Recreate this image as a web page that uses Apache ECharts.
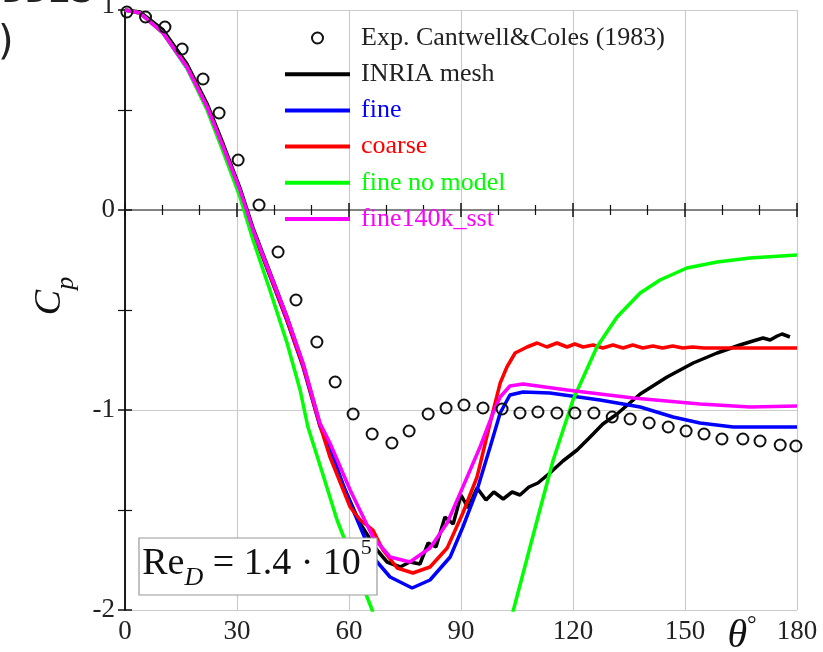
<!DOCTYPE html>
<html>
<head>
<meta charset="utf-8">
<script src="https://cdn.jsdelivr.net/npm/echarts@6/dist/echarts.min.js"></script>
<style>
html, body { margin: 0; padding: 0; background: #fff; }
#cp-chart { width: 823px; height: 652px; }
</style>
</head>
<body>
<div id="cp-chart"></div>
<script>
// 压力系数 Cp 分布  θ in degrees
var expTheta = [0.5, 5.5, 10.7, 15.3, 20.9, 25.2, 30.3, 35.9, 41.0, 45.8, 51.4, 56.3, 61.1, 66.2, 71.5, 76.1, 81.2, 86.0, 90.8, 95.9, 101.0, 105.8, 110.6, 115.7, 120.5, 125.6, 130.5, 135.3, 140.4, 145.5, 150.3, 155.1, 159.9, 165.5, 170.1, 175.5, 179.7];
var expCp    = [0.99, 0.965, 0.915, 0.805, 0.655, 0.485, 0.25, 0.025, -0.21, -0.45, -0.66, -0.86, -1.02, -1.12, -1.165, -1.105, -1.02, -0.99, -0.975, -0.99, -0.995, -1.015, -1.01, -1.015, -1.015, -1.015, -1.035, -1.045, -1.065, -1.085, -1.105, -1.12, -1.145, -1.145, -1.155, -1.175, -1.18];

var inriaTheta = [0, 4.0, 10.2, 16.6, 22.0, 26.3, 30.8, 34.3, 38.8, 43.4, 47.7, 52.2, 54.9, 58.5, 62.9, 67.5, 70.2, 73.7, 76.3, 79.0, 81.2, 83.3, 85.7, 87.9, 90.0, 91.9, 94.3, 96.7, 98.8, 101.3, 103.7, 105.8, 108.2, 110.6, 113.8, 117.3, 121.1, 124.6, 128.0, 131.8, 138.0, 145.2, 152.2, 158.6, 164.7, 168.2, 170.9, 172.8, 174.7, 176.0, 178.1];
var inriaCp    = [1.0, 0.99, 0.90, 0.73, 0.53, 0.33, 0.11, -0.09, -0.31, -0.535, -0.77, -1.07, -1.19, -1.38, -1.565, -1.70, -1.76, -1.785, -1.76, -1.77, -1.665, -1.685, -1.535, -1.57, -1.425, -1.49, -1.39, -1.45, -1.41, -1.445, -1.41, -1.425, -1.385, -1.365, -1.315, -1.255, -1.20, -1.135, -1.07, -1.02, -0.92, -0.835, -0.765, -0.715, -0.675, -0.655, -0.64, -0.65, -0.63, -0.62, -0.635];

var fineTheta = [0, 4.0, 10.2, 16.6, 22.0, 26.3, 30.8, 34.3, 38.8, 43.4, 47.7, 52.2, 54.9, 60.3, 66.4, 71.0, 76.9, 81.7, 87.1, 90.5, 94.3, 97.8, 100.5, 103.1, 106.6, 113.8, 127.2, 138.0, 146.8, 154.0, 162.9, 172.0, 180];
var fineCp    = [1.0, 0.985, 0.885, 0.71, 0.51, 0.31, 0.09, -0.11, -0.33, -0.555, -0.785, -1.08, -1.20, -1.465, -1.735, -1.835, -1.89, -1.85, -1.735, -1.585, -1.40, -1.185, -1.015, -0.925, -0.91, -0.915, -0.95, -0.985, -1.035, -1.065, -1.085, -1.085, -1.085];

var coarseTheta = [0, 4.0, 10.2, 16.6, 22.0, 26.3, 30.8, 34.3, 38.8, 43.4, 47.7, 52.2, 54.9, 60.3, 63.0, 66.4, 69.1, 72.9, 77.1, 81.7, 86.3, 90.5, 94.3, 97.8, 100.5, 102.3, 104.5, 107.7, 110.4, 113.0, 115.7, 118.4, 120.5, 122.7, 125.4, 128.0, 130.7, 133.4, 136.0, 138.7, 141.4, 144.0, 146.7, 149.4, 152.0, 155.0, 160.0, 170.0, 180];
var coarseCp    = [1.0, 0.985, 0.885, 0.715, 0.515, 0.315, 0.095, -0.105, -0.325, -0.55, -0.78, -1.075, -1.235, -1.485, -1.55, -1.60, -1.70, -1.79, -1.815, -1.785, -1.69, -1.515, -1.335, -1.065, -0.865, -0.785, -0.715, -0.685, -0.665, -0.685, -0.665, -0.685, -0.67, -0.685, -0.675, -0.69, -0.675, -0.69, -0.675, -0.69, -0.68, -0.69, -0.68, -0.69, -0.685, -0.69, -0.69, -0.69, -0.69];

var noModelTheta = [0, 4.0, 10.2, 16.6, 22.0, 25.4, 30.8, 34.3, 38.8, 43.4, 46.9, 49.0, 52.8, 56.8, 66.2, 72.0, 80.0, 90.0, 98.0, 103.9, 110.4, 114.7, 120.0, 126.4, 131.8, 138.0, 143.3, 150.5, 158.6, 167.4, 180];
var noModelCp    = [1.0, 0.985, 0.885, 0.71, 0.50, 0.335, 0.065, -0.15, -0.40, -0.665, -0.90, -1.085, -1.31, -1.55, -2.0, -2.4, -2.7, -2.75, -2.4, -2.01, -1.55, -1.25, -0.95, -0.685, -0.535, -0.415, -0.35, -0.29, -0.26, -0.24, -0.225];

var sstTheta = [0, 4.0, 10.2, 16.6, 22.0, 26.3, 30.8, 34.3, 38.8, 43.4, 47.7, 52.2, 54.9, 60.3, 66.4, 71.0, 76.3, 81.7, 86.3, 90.5, 95.1, 98.6, 100.5, 103.1, 106.6, 118.4, 136.1, 154.0, 167.4, 180];
var sstCp    = [1.0, 0.985, 0.885, 0.715, 0.515, 0.315, 0.10, -0.10, -0.315, -0.535, -0.765, -1.065, -1.165, -1.40, -1.635, -1.735, -1.76, -1.69, -1.565, -1.385, -1.185, -1.015, -0.935, -0.88, -0.87, -0.90, -0.94, -0.97, -0.985, -0.98];

// 刻度
var xTickLabels = [0, 30, 60, 90, 120, 150, 180];
var yTickLabels = [-2, -1, 0, 1];
var xTicks = [0, 180, 30];
var yTicks = [-2, 1, 1];

function pairs(xs, ys) {
    var out = [];
    for (var i = 0; i < xs.length; i++) {
        out.push([xs[i], ys[i]]);
    }
    return out;
}

var serif = '"Liberation Serif", serif';
var tickFont = '27px "Liberation Serif"';
var lineIcon = 'path://M0,0 L65,0 L65,4 L0,4 Z';
var cpChart = echarts.init(document.getElementById('cp-chart'));

function lineSeries(name, color, xs, ys) {
    return {
        name: name,
        type: 'line',
        data: pairs(xs, ys),
        symbol: 'none',
        smooth: false,
        clip: true,
        lineStyle: { color: color, width: 3.5 },
        itemStyle: { color: color },
        z: 2
    };
}

function frameAxis(pos, isX, line) {
    var ax = {
        type: 'value',
        position: pos,
        min: isX ? xTicks[0] : yTicks[0],
        max: isX ? xTicks[1] : yTicks[1],
        interval: isX ? xTicks[2] : yTicks[2],
        axisLine: { lineStyle: { color: line, width: 1.5 } },
        axisTick: { inside: true, length: 7, lineStyle: { color: '#111', width: 1.5 } },
        minorTick: { show: true, splitNumber: isX ? 3 : 2, length: isX ? 5 : 7, lineStyle: { color: '#111', width: 1.2 } },
        splitLine: { show: false },
        axisLabel: { show: false }
    };
    return ax;
}

var xMain = frameAxis('bottom', true, '#111');
xMain.splitLine = { show: true, lineStyle: { color: '#cccccc', width: 1.2 } };
var yMain = frameAxis('left', false, '#111');
yMain.splitLine = { show: true, lineStyle: { color: '#cccccc', width: 1.2 } };

var cpOption = {
    animation: false,
    backgroundColor: '#fff',
    grid: { left: 125, top: 10, right: 26, bottom: 42 },
    legend: {
        orient: 'vertical',
        left: 285,
        top: 25,
        padding: 0,
        itemWidth: 65,
        itemHeight: 11,
        itemGap: 10.2,
        textStyle: { fontFamily: serif, fontSize: 26, lineHeight: 26, padding: [0, 0, 0, 6] },
        data: [
            { name: 'Exp. Cantwell&Coles (1983)', icon: 'circle', textStyle: { color: '#222' } },
            { name: 'INRIA mesh', icon: lineIcon, textStyle: { color: '#222' } },
            { name: 'fine', icon: lineIcon, textStyle: { color: '#0000ff' } },
            { name: 'coarse', icon: lineIcon, textStyle: { color: '#ff0000' } },
            { name: 'fine no model', icon: lineIcon, textStyle: { color: '#00ff00' } },
            { name: 'fine140k_sst', icon: lineIcon, textStyle: { color: '#ff00ff' } }
        ]
    },
    xAxis: [xMain, frameAxis('top', true, '#999')],
    yAxis: [yMain, frameAxis('right', false, '#111')],
    series: [
        lineSeries('INRIA mesh', '#000000', inriaTheta, inriaCp),
        lineSeries('fine', '#0000ff', fineTheta, fineCp),
        lineSeries('coarse', '#ff0000', coarseTheta, coarseCp),
        lineSeries('fine no model', '#00ff00', noModelTheta, noModelCp),
        lineSeries('fine140k_sst', '#ff00ff', sstTheta, sstCp),
        {
            name: 'Exp. Cantwell&Coles (1983)',
            type: 'scatter',
            data: pairs(expTheta, expCp),
            symbol: 'circle',
            symbolSize: 11,
            itemStyle: { color: 'rgba(255,255,255,0)', borderColor: '#111', borderWidth: 2, opacity: 1 },
            z: 5
        }
    ]
};

cpChart.setOption(cpOption);

// 刻度文字: 轴自带的 label 不吃 fontFamily, 用 graphic 按轴坐标放
var gfx = [];
xTickLabels.forEach(function (v) {
    gfx.push({
        type: 'text',
        x: cpChart.convertToPixel({ xAxisIndex: 0 }, v),
        y: cpChart.convertToPixel({ yAxisIndex: 0 }, yTicks[0]) + 8,
        style: { text: String(v), font: tickFont, fill: '#222', align: 'center', verticalAlign: 'top' }
    });
});
yTickLabels.forEach(function (v) {
    gfx.push({
        type: 'text',
        x: cpChart.convertToPixel({ xAxisIndex: 0 }, xTicks[0]) - 10,
        y: cpChart.convertToPixel({ yAxisIndex: 0 }, v) - (v === yTicks[1] ? 4 : 0),
        style: { text: String(v), font: tickFont, fill: '#222', align: 'right', verticalAlign: 'middle' }
    });
});

gfx = gfx.concat([
    // 左上角被裁掉的别的图的文字
    { type: 'text', left: -2, top: 24, style: { text: ')', font: '40px "DejaVu Sans"', fill: '#222' } },
    { type: 'text', left: 2, top: -27, style: { text: 'DDES', font: 'bold 38px "DejaVu Sans Mono"', fill: '#222' } },
    // Cp
    {
        type: 'text', x: 50, y: 296, rotation: Math.PI / 2,
        style: {
            text: '{c|C}{p|p}', align: 'center', verticalAlign: 'middle',
            rich: {
                c: { font: 'italic 38px "Liberation Serif"', fill: '#111', lineHeight: 58 },
                p: { font: 'italic 26px "Liberation Serif"', fill: '#111', lineHeight: 26, verticalAlign: 'bottom' }
            }
        }
    },
    // θ°
    {
        type: 'text', x: 742, y: 636,
        style: {
            text: '{t|θ}{d|°}', align: 'center', verticalAlign: 'middle',
            rich: {
                t: { font: 'italic 40px "Liberation Serif"', fill: '#111', lineHeight: 44 },
                d: { font: '24px "Liberation Serif"', fill: '#111', lineHeight: 30, verticalAlign: 'top' }
            }
        }
    },
    // Re_D 框
    {
        type: 'rect', shape: { x: 139, y: 538, width: 238, height: 57 },
        style: { fill: '#fff', stroke: '#999', lineWidth: 1.2 }, z: 10
    },
    {
        type: 'text', x: 257, y: 564, z: 11,
        style: {
            text: '{a|Re}{s|D}{a| = 1.4 · 10}{u|5}', align: 'center', verticalAlign: 'middle',
            rich: {
                a: { font: '38px "Liberation Serif"', fill: '#111', lineHeight: 54 },
                s: { font: 'italic 26px "Liberation Serif"', fill: '#111', lineHeight: 30, verticalAlign: 'bottom' },
                u: { font: '22px "Liberation Serif"', fill: '#111', lineHeight: 38, verticalAlign: 'top' }
            }
        }
    }
]);

cpChart.setOption({ graphic: gfx });
</script>
</body>
</html>
